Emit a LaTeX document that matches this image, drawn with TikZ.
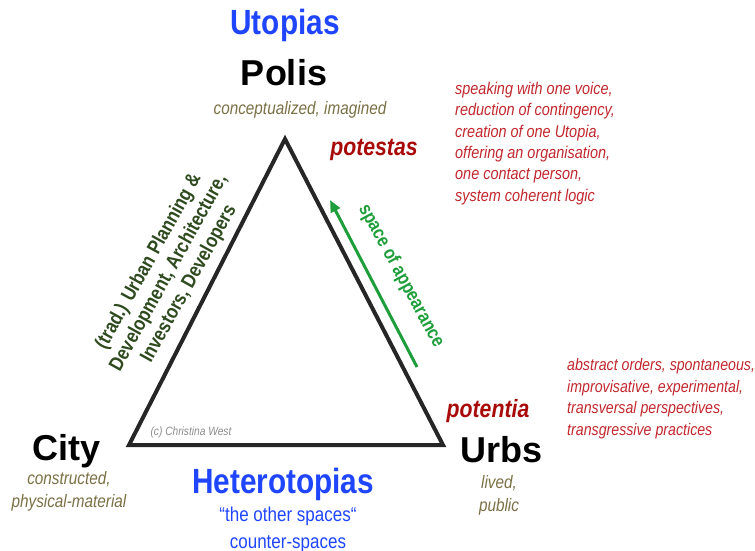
\documentclass[tikz,border=0pt]{standalone}
\usepackage{fontspec}
\setmainfont{Liberation Sans}
\newfontfamily\narrowfont[FakeStretch=0.85]{Liberation Sans}
\usetikzlibrary{positioning, arrows.meta}
\definecolor{topiablue}{HTML}{1F45FF}
\definecolor{potred}{HTML}{A80A0A}
\definecolor{listred}{HTML}{C1272D}
\definecolor{olive}{HTML}{7A7045}
\definecolor{plangreen}{HTML}{2E4A1E}
\definecolor{appgreen}{HTML}{1E9E3A}

\begin{document}
\begin{tikzpicture}[x=1pt, y=-1pt,
    corner/.style={font=\fontsize{36}{40}\selectfont\bfseries, anchor=base},
    topia/.style={text=topiablue, font=\narrowfont\fontsize{35}{40}\selectfont\bfseries, anchor=base},
    quality/.style={text=olive, font=\narrowfont\fontsize{18}{23}\selectfont\itshape, align=center},
    power/.style={text=potred, font=\narrowfont\fontsize{25}{28}\selectfont\bfseries\itshape, anchor=base},
    traits/.style={text=listred, font=\narrowfont\fontsize{17}{21.3}\selectfont\itshape, align=left,
                   anchor=north west, inner sep=0pt}]
  \useasboundingbox (0,0) rectangle (755,551);

  % triangle
  \coordinate (polis) at (285,139);
  \coordinate (city) at (129,445);
  \coordinate (urbs) at (443,445);
  \draw[line width=4pt, color=black!85, line join=miter] (polis) -- (urbs) -- (city) -- cycle;

  % top corner
  \node[topia] (utopias) at (285,35) {Utopias};
  \node[corner] (polisname) at (284,85) {Polis};
  \node[quality, anchor=base] (polisq) at (300,114) {conceptualized, imagined};
  \node[power] (potestas) at (374,155) {potestas};
  \node[traits] (potestaslist) at (455,82) {speaking with one voice,\\
    reduction of contingency,\\ creation of one Utopia,\\ offering an organisation,\\
    one contact person,\\ system coherent logic};

  % left corner
  \node[corner] (cityname) at (67,460) {City};
  \node[quality, anchor=north] (cityq) at (69,468) {constructed,\\ physical-material};
  \node[text=plangreen, font=\narrowfont\fontsize{20}{23}\selectfont\bfseries, align=center,
        rotate=61] (planning) at (169,273)
    {(trad.) Urban Planning \&\\ Development, Architecture,\\ Investors, Developers};
  \node[text=black!45, font=\narrowfont\fontsize{12}{14}\selectfont\itshape, anchor=base west]
    (copyright) at (147,435) {(c) Christina West};

  % bottom
  \node[topia] (heterotopias) at (283,493) {Heterotopias};
  \node[text=topiablue, font=\narrowfont\fontsize{20}{27}\selectfont, align=center, anchor=north]
    (others) at (288,503) {“the other spaces“\\ counter-spaces};

  % right corner
  \node[power] (potentia) at (488,417) {potentia};
  \node[corner] (urbsname) at (502,462) {Urbs};
  \node[quality, anchor=north] (urbsq) at (499,472) {lived,\\ public};
  \node[traits, font=\narrowfont\fontsize{16.7}{21.7}\selectfont\itshape] (potentialist) at (567,358)
    {abstract orders, spontaneous,\\ improvisative, experimental,\\
     transversal perspectives,\\ transgressive practices};

  % space of appearance
  \coordinate (appstart) at (417,367);
  \coordinate (append) at (330,200);
  \draw[-{Triangle[length=12pt, width=10pt]}, appgreen, line width=3pt] (appstart) -- (append);
  \node[text=appgreen, font=\narrowfont\fontsize{19}{22}\selectfont\bfseries, rotate=-61.5]
    (appearance) at (401,276) {space of appearance};
\end{tikzpicture}
\end{document}
